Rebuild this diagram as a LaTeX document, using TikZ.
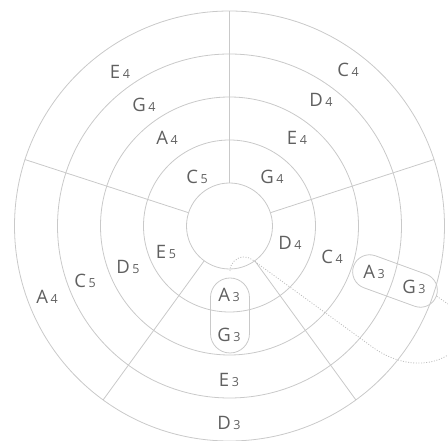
\documentclass[tikz,border=0pt]{standalone}
\usepackage{fontspec}
\setmainfont{Open Sans}
\definecolor{linec}{HTML}{C9C9C9}
\definecolor{dotc}{HTML}{BDBDBD}
\definecolor{txtc}{HTML}{606060}
\newcommand\notelab[2]{{\fontsize{18.5}{18.5}\selectfont #1}\hspace{2.6pt}{\fontsize{12.5}{12.5}\selectfont #2}}
\begin{document}
\begin{tikzpicture}[x=1pt,y=1pt,
  ring/.style={circle,draw=linec,line width=0.8pt,inner sep=0pt,outer sep=0pt,minimum size=#1},
  spoke/.style={draw=linec,line width=0.8pt},
  lab/.style={text=txtc,inner sep=0pt},
  pill/.style={draw=linec,line width=0.8pt,inner sep=0pt},
  dotline/.style={draw=dotc,line width=0.8pt,dash pattern=on 1pt off 1.6pt}]
\useasboundingbox (-229.5,-215) rectangle (218.5,226);
% rings
\node[ring=86pt]  (c1) at (0,0) {};
\node[ring=172pt] (c2) at (0,0) {};
\node[ring=258pt] (c3) at (0,0) {};
\node[ring=344pt] (c4) at (0,0) {};
\node[ring=430pt] (c5) at (0,0) {};
% spokes
\foreach \a in {18,90,162,234,306}{\draw[spoke] (c1.\a) -- (c5.\a);}
% pills
\node[pill,rounded corners=19.5pt,minimum width=39pt,minimum height=75pt] (pB) at (0.5,-89.5) {};
\node[pill,rounded corners=17pt,minimum width=88pt,minimum height=34pt,rotate=-20] (pR) at (165.5,-55) {};
% top-left sector
\node[lab] (tl1) at (-32.5,49) {\notelab{C}{5}};
\node[lab] (tl2) at (-62.5,88) {\notelab{A}{4}};
\node[lab] (tl3) at (-85.5,121) {\notelab{G}{4}};
\node[lab] (tl4) at (-109.5,154) {\notelab{E}{4}};
% top-right sector
\node[lab] (tr1) at (42.5,49) {\notelab{G}{4}};
\node[lab] (tr2) at (67.5,88) {\notelab{E}{4}};
\node[lab] (tr3) at (91.5,126) {\notelab{D}{4}};
\node[lab] (tr4) at (118.5,156) {\notelab{C}{4}};
% left sector
\node[lab] (l1) at (-63.5,-26) {\notelab{E}{5}};
\node[lab] (l2) at (-101.5,-41) {\notelab{D}{5}};
\node[lab] (l3) at (-144.5,-55) {\notelab{C}{5}};
\node[lab] (l4) at (-182.5,-71) {\notelab{A}{4}};
% right sector
\node[lab] (r1) at (60.5,-17) {\notelab{D}{4}};
\node[lab] (r2) at (102.5,-31) {\notelab{C}{4}};
\node[lab] (r3) at (144.5,-46) {\notelab{A}{3}};
\node[lab] (r4) at (184.5,-61) {\notelab{G}{3}};
% bottom sector
\node[lab] (b1) at (-0.5,-69) {\notelab{A}{3}};
\node[lab] (b2) at (-0.5,-109) {\notelab{G}{3}};
\node[lab] (b3) at (-0.5,-154) {\notelab{E}{3}};
\node[lab] (b4) at (-0.5,-197) {\notelab{D}{3}};
% dotted curves
\coordinate (d0) at (0.5,-45);
\coordinate (dR) at (218.5,-78);
\draw[dotline] (d0) arc[start angle=180,end angle=54,radius=14]
  -- (142.7,-120.9) .. controls (166,-138) and (196,-143) .. (218.5,-129);
\draw[dotline] (pR.east) -- (dR);
\end{tikzpicture}
\end{document}
